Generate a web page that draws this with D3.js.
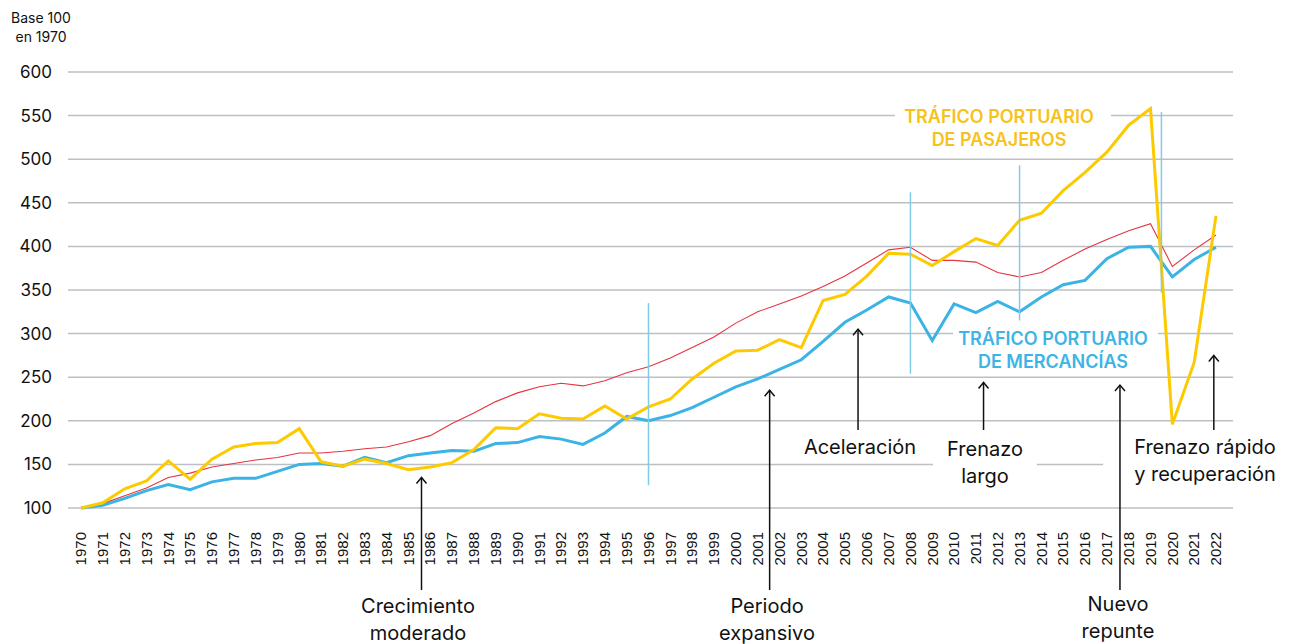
<!DOCTYPE html>
<html>
<head>
<meta charset="utf-8">
<script src="https://cdn.jsdelivr.net/npm/d3@7"></script>
<style>
  body { margin: 0; background: #fff; }
  svg { display: block; font-family: Inter, "Noto Sans", sans-serif; }
</style>
</head>
<body>
<div id="chart"></div>
<script>
// data, base 100 in 1970
const years = [1970, 1971, 1972, 1973, 1974, 1975, 1976, 1977, 1978, 1979,
  1980, 1981, 1982, 1983, 1984, 1985, 1986, 1987, 1988, 1989,
  1990, 1991, 1992, 1993, 1994, 1995, 1996, 1997, 1998, 1999,
  2000, 2001, 2002, 2003, 2004, 2005, 2006, 2007, 2008, 2009,
  2010, 2011, 2012, 2013, 2014, 2015, 2016, 2017, 2018, 2019,
  2020, 2021, 2022]

const pasajeros = [100, 106, 122, 131, 154, 133, 156, 170, 174, 175,
  191, 153, 148, 156, 151, 144, 147, 152, 167, 192,
  191, 208, 203, 202, 217, 202, 216, 225, 248, 266,
  280, 281, 293, 284, 338, 345, 366, 392, 391, 378,
  394, 409, 401, 430, 438, 464, 485, 508, 539, 558,
  196, 267, 435]

const mercancias = [100, 103, 111, 120, 127, 121, 130, 134, 134, 142,
  150, 151, 148, 158, 152, 160, 163, 166, 165, 174,
  175, 182, 179, 173, 186, 205, 200, 206, 215, 227,
  239, 248, 259, 270, 291, 313, 327, 342, 335, 292,
  334, 324, 337, 325, 342, 356, 361, 386, 399, 400,
  365, 385, 399]

const referencia = [100, 105, 114, 123, 135, 140, 147, 151, 155, 158,
  163, 163, 165, 168, 170, 176, 183, 197, 209, 222,
  232, 239, 243, 240, 246, 255, 262, 272, 284, 296,
  312, 325, 334, 343, 354, 366, 381, 396, 399, 384,
  384, 382, 370, 365, 370, 384, 397, 408, 418, 426,
  377, 396, 413]

const yTicks = [100, 150, 200, 250, 300, 350, 400, 450, 500, 550, 600]

// period boundaries: [year, from value, to value]
const cortes = [[1996, 126, 335], [2008, 254, 462], [2013, 315, 493], [2019.5, 347, 554]]

// annotations: arrow year, arrow tip value, label lines
const notas = [
  { year: 1985.6, tip: 135, end: 590, lines: ['Crecimiento', 'moderado'], tx: 418, ty: 606 },
  { year: 2001.55, tip: 235, end: 590, lines: ['Periodo', 'expansivo'], tx: 767, ty: 606 },
  { year: 2005.6, tip: 305, end: 430, lines: ['Aceleración'], tx: 860, ty: 447 },
  { year: 2011.35, tip: 244, end: 430, lines: ['Frenazo', 'largo'], tx: 985, ty: 449, box: [-14, 14] },
  { year: 2017.6, tip: 241, end: 590, lines: ['Nuevo', 'repunte'], tx: 1118, ty: 604 },
  { year: 2021.9, tip: 275, end: 430, lines: ['Frenazo rápido', 'y recuperación'], tx: 1205, ty: 447, box: [-31, 20] }
]

const width = 1295, height = 644
const svg = d3.select('#chart').append('svg')
  .attr('width', width)
  .attr('height', height)

const x = d3.scaleLinear().domain([1970, 2022]).range([81, 1216])
const y = d3.scaleLinear().domain([100, 600]).range([508, 72])

// grid
svg.append('g')
  .selectAll('line')
  .data(yTicks)
  .enter().append('line')
  .attr('x1', x(1970) - 13)
  .attr('x2', x(2022) + 17)
  .attr('y1', (d) => y(d))
  .attr('y2', (d) => y(d))
  .attr('stroke', '#bcc0c4')
  .attr('stroke-width', 1.5)

svg.append('g')
  .selectAll('text')
  .data(yTicks)
  .enter().append('text')
  .attr('x', 52)
  .attr('y', (d) => y(d))
  .attr('dy', '0.35em')
  .attr('text-anchor', 'end')
  .attr('font-size', 17)
  .attr('fill', '#111')
  .text((d) => d)

svg.append('text')
  .attr('x', 41).attr('y', 23)
  .attr('text-anchor', 'middle')
  .attr('font-size', 14)
  .attr('fill', '#111')
  .text('Base 100')
svg.append('text')
  .attr('x', 41).attr('y', 42)
  .attr('text-anchor', 'middle')
  .attr('font-size', 14)
  .attr('fill', '#111')
  .text('en 1970')

// year labels
svg.append('g')
  .selectAll('text')
  .data(years)
  .enter().append('text')
  .attr('transform', (d) => `translate(${x(d)},532) rotate(-90)`)
  .attr('dy', '0.35em')
  .attr('text-anchor', 'end')
  .attr('font-family', '"Liberation Sans", Arial, sans-serif')
  .attr('font-size', 15)
  .attr('fill', '#111')
  .text((d) => d)

// series labels with white boxes
const seriesLabels = [
  { lines: ['TRÁFICO PORTUARIO', 'DE PASAJEROS'], cx: 999, cy: 117, color: '#f7c21a', box: [895, 1111] },
  { lines: ['TRÁFICO PORTUARIO', 'DE MERCANCÍAS'], cx: 1053, cy: 339, color: '#3db4e5', box: [953, 1158] }
]
seriesLabels.forEach((s) => {
  svg.append('rect')
    .attr('x', s.box[0]).attr('width', s.box[1] - s.box[0])
    .attr('y', s.cy - 12).attr('height', 46)
    .attr('fill', '#fff')
})

const line = (vals) => d3.line()
  .x((d, i) => x(years[i]))
  .y((d) => y(d))(vals)

svg.append('path')
  .attr('d', line(referencia))
  .attr('fill', 'none')
  .attr('stroke', '#e5343f')
  .attr('stroke-width', 1.1)

svg.append('path')
  .attr('d', line(mercancias))
  .attr('fill', 'none')
  .attr('stroke', '#3bb3e4')
  .attr('stroke-width', 3)

svg.append('path')
  .attr('d', line(pasajeros))
  .attr('fill', 'none')
  .attr('stroke', '#fdca00')
  .attr('stroke-width', 3)

svg.append('g')
  .selectAll('line')
  .data(cortes)
  .enter().append('line')
  .attr('x1', (d) => x(d[0]))
  .attr('x2', (d) => x(d[0]))
  .attr('y1', (d) => y(d[1]))
  .attr('y2', (d) => y(d[2]))
  .attr('stroke', '#7fcbea')
  .attr('stroke-width', 1.5)

seriesLabels.forEach((s) => {
  s.lines.forEach((t, i) => {
    svg.append('text')
      .attr('x', s.cx).attr('y', s.cy + i * 23)
      .attr('dy', '0.35em')
      .attr('text-anchor', 'middle')
      .attr('font-size', 18)
      .attr('font-weight', 600)
      .attr('fill', s.color)
      .text(t)
  })
})

// white boxes that cut the grid behind some annotations
notas.filter((n) => n.box).forEach((n) => {
  let g = svg.append('g')
  n.lines.forEach((t, i) => g.append('text')
    .attr('x', n.tx).attr('y', n.ty + i * 27)
    .attr('dy', '0.35em')
    .attr('text-anchor', 'middle')
    .attr('font-size', 20)
    .text(t))
  let bb = g.node().getBBox()
  g.remove()
  svg.append('rect')
    .attr('x', bb.x + n.box[0])
    .attr('y', bb.y - 4)
    .attr('width', bb.width - n.box[0] + n.box[1])
    .attr('height', bb.height + 8)
    .attr('fill', '#fff')
})

notas.forEach((n) => {
  let ax = x(n.year)
  let top = y(n.tip)
  svg.append('line')
    .attr('x1', ax).attr('x2', ax)
    .attr('y1', top).attr('y2', n.end)
    .attr('stroke', '#111')
    .attr('stroke-width', 1.5)
  svg.append('path')
    .attr('d', `M${ax - 5},${top + 6}L${ax},${top}L${ax + 5},${top + 6}`)
    .attr('fill', 'none')
    .attr('stroke', '#111')
    .attr('stroke-width', 1.5)
  n.lines.forEach((t, i) => {
    svg.append('text')
      .attr('x', n.tx).attr('y', n.ty + i * 27)
      .attr('dy', '0.35em')
      .attr('text-anchor', 'middle')
      .attr('font-size', 20)
      .attr('fill', '#111')
      .text(t)
  })
})
</script>
</body>
</html>
